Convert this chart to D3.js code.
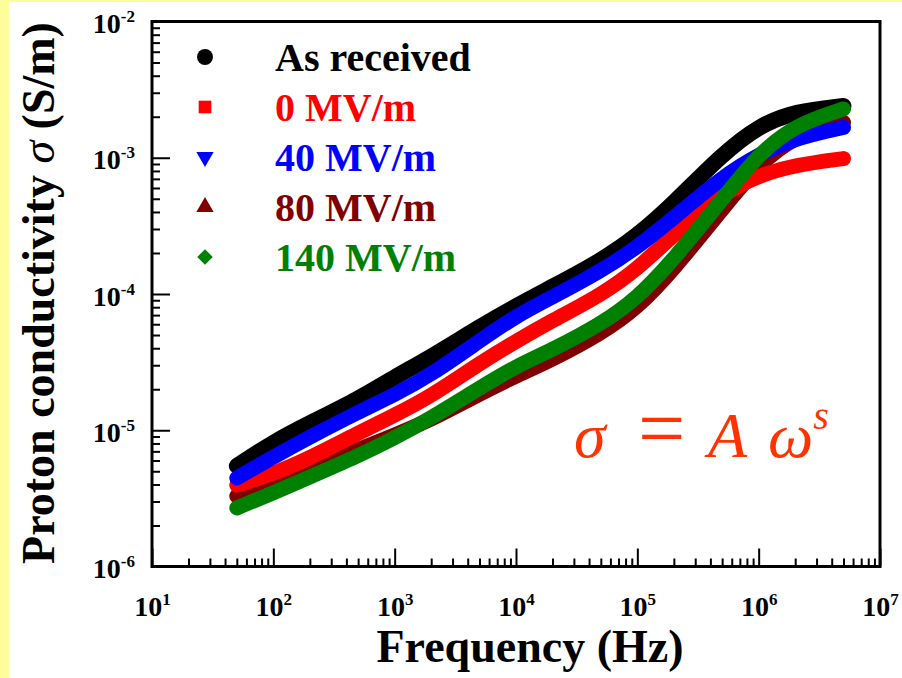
<!DOCTYPE html>
<html>
<head>
<meta charset="utf-8">
<script src="https://cdn.jsdelivr.net/npm/d3@7"></script>
<style>
  body { margin: 0; background: #fff; }
  svg { display: block; font-family: "Liberation Serif", "Times New Roman", serif; }
</style>
</head>
<body>
<svg id="chart" width="902" height="678"></svg>
<script>
// frequency points (Hz)
const freq = [50, 100, 200, 500, 1e3, 2e3, 5e3, 1e4, 2e4, 5e4, 1e5, 2e5, 5e5, 1e6, 2e6, 5e6];

// conductivity (S/m)
const asReceived = [5.47e-6, 8.2e-6, 1.13e-5, 1.69e-5, 2.46e-5, 3.45e-5, 5.73e-5, 8.17e-5, 1.13e-4, 1.75e-4, 2.67e-4, 4.64e-4, 1.06e-3, 1.72e-3, 2.19e-3, 2.4e-3];
const mv0 = [3.96e-6, 4.77e-6, 6.25e-6, 9.54e-6, 1.29e-5, 1.78e-5, 3.1e-5, 4.5e-5, 6.4e-5, 9.8e-5, 1.52e-4, 2.74e-4, 5.45e-4, 7.43e-4, 8.83e-4, 9.86e-4];
const mv40 = [4.47e-6, 6.37e-6, 8.92e-6, 1.36e-5, 1.82e-5, 2.55e-5, 4.52e-5, 6.9e-5, 9.5e-5, 1.47e-4, 2.2e-4, 3.63e-4, 7.22e-4, 1.06e-3, 1.39e-3, 1.67e-3];
const mv80 = [3.29e-6, 4.17e-6, 5.37e-6, 7.16e-6, 9.23e-6, 1.19e-5, 1.85e-5, 2.5e-5, 3.3e-5, 5.1e-5, 7.87e-5, 1.52e-4, 4.17e-4, 8.93e-4, 1.45e-3, 1.82e-3];
const mv140 = [2.69e-6, 3.47e-6, 4.54e-6, 6.47e-6, 8.77e-6, 1.23e-5, 2.04e-5, 2.95e-5, 3.9e-5, 6.0e-5, 9.31e-5, 1.8e-4, 4.93e-4, 1.07e-3, 1.74e-3, 2.28e-3];

const seriesNames = ["As received", "0 MV/m", "40 MV/m", "80 MV/m", "140 MV/m"];
const seriesColors = ["#000000", "#ff0000", "#0000ff", "#800000", "#008000"];

const xTicks = [1e1, 1e2, 1e3, 1e4, 1e5, 1e6, 1e7];
const yTicks = [1e-6, 1e-5, 1e-4, 1e-3, 1e-2];

const svg = d3.select("#chart");

// pale yellow edges of the scanned figure
svg.append("rect").attr("x", 0).attr("y", 0).attr("width", 902).attr("height", 678).attr("fill", "#ffffff");
svg.append("rect").attr("x", 0).attr("y", 0).attr("width", 9).attr("height", 678).attr("fill", "#fdfd9c");
svg.append("rect").attr("x", 0).attr("y", 0).attr("width", 902).attr("height", 2).attr("fill", "#fdfd9c");

const pLeft = 152, pRight = 880, pTop = 21.5, pBottom = 566.5;

const x = d3.scaleLog().domain([1e1, 1e7]).range([pLeft, pRight]);
const y = d3.scaleLog().domain([1e-6, 1e-2]).range([pBottom, pTop]);

// minor tick values
function minors(lo, hi) {
  const out = [];
  for (let e = lo; e < hi; e++) {
    for (let m = 2; m <= 9; m++) out.push(m * Math.pow(10, e));
  }
  return out;
}

// curves
const allSeries = [asReceived, mv0, mv40, mv80, mv140];
const drawOrder = [0, 3, 1, 2, 4];
const line = d3.line()
  .x((d, i) => x(freq[i]))
  .y(d => y(d))
  .curve(d3.curveBasis);

drawOrder.forEach(k => {
  svg.append("path")
    .datum(allSeries[k])
    .attr("fill", "none")
    .attr("stroke", seriesColors[k])
    .attr("stroke-width", k == 0 ? 16 : 15)
    .attr("stroke-linecap", "round")
    .attr("d", line);
});

// axes
const gx = svg.append("g").attr("transform", `translate(0,${pBottom})`);
gx.call(d3.axisBottom(x).tickValues(minors(1, 7)).tickSizeInner(-8).tickSizeOuter(0).tickFormat(""));
gx.select(".domain").remove();
const gxMaj = svg.append("g").attr("transform", `translate(0,${pBottom})`);
gxMaj.call(d3.axisBottom(x).tickValues(xTicks).tickSizeInner(-18).tickSizeOuter(0).tickPadding(0));
gxMaj.select(".domain").remove();

const gy = svg.append("g").attr("transform", `translate(${pLeft},0)`);
gy.call(d3.axisLeft(y).tickValues(minors(-6, -2)).tickSizeInner(-8).tickSizeOuter(0).tickFormat(""));
gy.select(".domain").remove();
const gyMaj = svg.append("g").attr("transform", `translate(${pLeft},0)`);
gyMaj.call(d3.axisLeft(y).tickValues(yTicks).tickSizeInner(-18).tickSizeOuter(0).tickPadding(0));
gyMaj.select(".domain").remove();

svg.selectAll(".tick line").attr("stroke", "#000").attr("stroke-width", 2);

// tick labels as 10 with superscript exponent
gxMaj.selectAll(".tick text").each(function(d) {
  const t = d3.select(this);
  t.text(null)
    .attr("y", 49).attr("dy", null)
    .attr("font-family", "Liberation Serif").attr("font-weight", "bold")
    .attr("font-size", 28).attr("fill", "#000").attr("text-anchor", "middle");
  t.append("tspan").text("10");
  t.append("tspan").attr("dy", -11).attr("font-size", 17).text(Math.round(Math.log10(d)));
});
gyMaj.selectAll(".tick text").each(function(d) {
  const t = d3.select(this);
  t.text(null)
    .attr("x", -17).attr("dy", 11)
    .attr("font-family", "Liberation Serif").attr("font-weight", "bold")
    .attr("font-size", 28).attr("fill", "#000").attr("text-anchor", "end");
  t.append("tspan").text("10");
  t.append("tspan").attr("dy", -11).attr("font-size", 17).text(Math.round(Math.log10(d)));
});

// frame
svg.append("rect")
  .attr("x", pLeft).attr("y", pTop)
  .attr("width", pRight - pLeft).attr("height", pBottom - pTop)
  .attr("fill", "none").attr("stroke", "#000").attr("stroke-width", 3);

// axis titles
svg.append("text")
  .attr("x", 530).attr("y", 662)
  .attr("text-anchor", "middle")
  .attr("font-weight", "bold").attr("font-size", 46)
  .text("Frequency (Hz)");

const yt = svg.append("text")
  .attr("transform", "translate(54,293) rotate(-90)")
  .attr("text-anchor", "middle")
  .attr("font-weight", "bold").attr("font-size", 46);
yt.append("tspan").text("Proton conductivity ");
yt.append("tspan").attr("font-style", "italic").attr("font-weight", "normal").text("σ");
yt.append("tspan").text(" (S/m)");

// legend
const symbols = [d3.symbolCircle, d3.symbolSquare, d3.symbolTriangle, d3.symbolTriangle, d3.symbolSquare];
const symSize = [200, 160, 130, 130, 120];
const rotations = [0, 0, 180, 0, 45];
const legend = svg.append("g");
seriesNames.forEach((name, i) => {
  const ly = 57 + i * 50;
  legend.append("path")
    .attr("d", d3.symbol().type(symbols[i]).size(symSize[i])())
    .attr("transform", `translate(205,${ly}) rotate(${rotations[i]})`)
    .attr("fill", seriesColors[i]);
  legend.append("text")
    .attr("x", 275).attr("y", ly + 14)
    .attr("font-weight", "bold").attr("font-size", 40)
    .attr("fill", seriesColors[i])
    .text(name);
});

// formula annotation
const eq = svg.append("text")
  .attr("y", 457)
  .attr("font-family", "Liberation Serif")
  .attr("font-size", 64).attr("fill", "#ff3300");
eq.append("tspan").attr("x", 574).attr("font-style", "italic").text("σ");
eq.append("tspan").attr("x", 638).attr("font-size", 84).text("=");
eq.append("tspan").attr("x", 708).attr("font-style", "italic").text("A");
eq.append("tspan").attr("x", 768).attr("font-style", "italic").text("ω");
eq.append("tspan").attr("dy", -28).attr("font-size", 40).attr("font-style", "italic").text("s");
</script>
</body>
</html>
